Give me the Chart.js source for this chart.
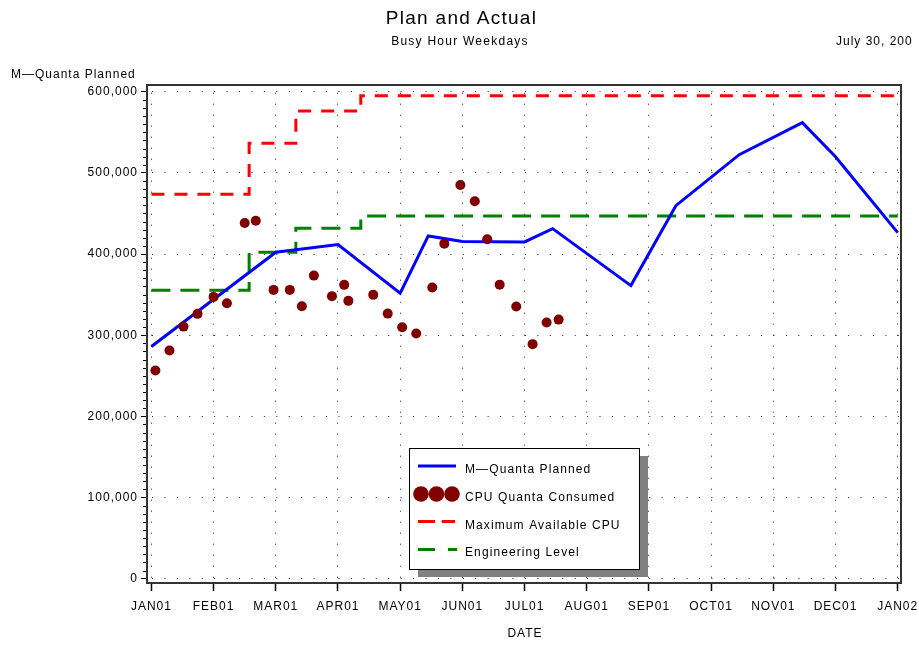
<!DOCTYPE html>
<html>
<head>
<meta charset="utf-8">
<script src="https://cdn.jsdelivr.net/npm/chart.js@4.4.0/dist/chart.umd.min.js"></script>
<style>
  html, body { margin: 0; padding: 0; background: #fff; }
  #wrap { position: relative; width: 919px; height: 645px; overflow: hidden; }
  #wrap canvas { position: absolute; left: 0; top: 0; }
  .txt { position: absolute; font-family: "Liberation Sans", Arial, sans-serif; color: #000; white-space: nowrap; letter-spacing: 1px; font-size: 12px; line-height: 12px; }
</style>
</head>
<body>
<div id="wrap">
  <canvas id="planChart" width="919" height="645"></canvas>
  <div class="txt" style="left:2px;width:919px;text-align:center;top:8px;font-size:19px;line-height:19px;letter-spacing:1.3px;">Plan and Actual</div>
  <div class="txt" style="left:0;width:920px;text-align:center;top:35px;letter-spacing:1.25px;">Busy Hour Weekdays</div>
  <div class="txt" style="left:836px;top:35px;">July 30, 200</div>
  <div class="txt" style="left:11px;top:68px;">M—Quanta Planned</div>
  <div class="txt" style="left:500px;width:50px;text-align:center;top:627px;">DATE</div>
</div>
<script>
// axis labels
const monthLabels = ['JAN01', 'FEB01', 'MAR01', 'APR01', 'MAY01', 'JUN01', 'JUL01',
                     'AUG01', 'SEP01', 'OCT01', 'NOV01', 'DEC01', 'JAN02'];
const yTickValues = [0, 100000, 200000, 300000, 400000, 500000, 600000];

// M-Quanta Planned
const plannedDates = ['2001-01-01', '2001-03-01', '2001-04-01', '2001-05-01', '2001-05-15',
                      '2001-06-01', '2001-07-01', '2001-07-15', '2001-08-23', '2001-09-14',
                      '2001-10-15', '2001-11-15', '2001-12-01', '2002-01-01'];
const plannedValues = [286000, 402200, 411600, 351800, 422300,
                       415500, 414900, 431300, 361100, 459600,
                       522400, 561800, 519900, 426400];

// CPU Quanta Consumed
const consumedDates = ['2001-01-03', '2001-01-10', '2001-01-17', '2001-01-24', '2001-02-01',
                       '2001-02-07', '2001-02-15', '2001-02-20', '2001-02-28', '2001-03-08',
                       '2001-03-14', '2001-03-20', '2001-03-29', '2001-04-04', '2001-04-06',
                       '2001-04-18', '2001-04-25', '2001-05-02', '2001-05-09', '2001-05-17',
                       '2001-05-23', '2001-05-31', '2001-06-07', '2001-06-13', '2001-06-19',
                       '2001-06-27', '2001-07-05', '2001-07-12', '2001-07-18'];
const consumedValues = [256500, 281100, 310600, 326300, 347200,
                        339400, 438300, 441100, 355800, 355800,
                        335700, 373400, 348100, 362000, 342300,
                        349700, 326600, 309900, 302000, 358700,
                        412800, 485100, 465000, 418200, 362300,
                        335300, 289000, 315600, 319200];

// Maximum Available CPU / Engineering Level (step levels)
const levelDates = ['2001-01-01', '2001-02-17', '2001-03-11', '2001-04-12', '2002-01-01'];
const maxCpuValues = [473600, 536400, 576200, 595000, 595000];
const engValues = [355400, 402200, 431800, 446900, 446900];

// date -> position in months from JAN01 (months spaced evenly)
function monthPos(s) {
    const [y, m, d] = s.split('-').map(Number);
    const days = new Date(y, m, 0).getDate();
    return (y - 2001) * 12 + (m - 1) + (d - 1) / days;
}
function toPoints(dates, values) {
    return dates.map((d, i) => ({ x: monthPos(d), y: values[i] }));
}

const FONT = { family: '"Liberation Sans", Arial, sans-serif', size: 12 };

// frame round the plot + minor ticks on the y axis
const framePlugin = {
    id: 'frame',
    beforeUpdate(chart) { chart.ctx.letterSpacing = '1px'; },
    beforeDraw(chart) { chart.ctx.letterSpacing = '1px'; },
    afterDatasetsDraw(chart) {
        const ctx = chart.ctx, a = chart.chartArea, ys = chart.scales.y;
        ctx.save();
        ctx.strokeStyle = '#000';
        ctx.lineWidth = 1;
        for (let v = 10000; v < 600000; v += 10000) {
            if (v % 100000 === 0) continue;
            const py = Math.round(ys.getPixelForValue(v)) + 0.5;
            ctx.beginPath();
            ctx.moveTo(a.left - 4, py);
            ctx.lineTo(a.left, py);
            ctx.stroke();
        }
        ctx.strokeStyle = '#333';
        ctx.lineWidth = 2;
        ctx.strokeRect(a.left, a.top, a.right - a.left, a.bottom - a.top);
        ctx.restore();
    }
};

// legend box inside the plot with a grey shadow
const legendPlugin = {
    id: 'boxLegend',
    afterDraw(chart) {
        const ctx = chart.ctx, a = chart.chartArea;
        const bx = a.left + 262, by = a.top + 363, bw = 230, bh = 121;
        ctx.save();
        ctx.fillStyle = '#808080';
        ctx.fillRect(bx + 9, by + 8, bw, bh);
        ctx.fillStyle = '#fff';
        ctx.fillRect(bx, by, bw, bh);
        ctx.strokeStyle = '#000';
        ctx.lineWidth = 1;
        ctx.strokeRect(bx + 0.5, by + 0.5, bw, bh);

        const sx = bx + 9, tx = bx + 56;
        const rows = [by + 25, by + 53, by + 80.5, by + 108];

        ctx.lineWidth = 3;
        ctx.strokeStyle = '#0000ff';
        ctx.beginPath(); ctx.moveTo(sx, rows[0] - 7); ctx.lineTo(sx + 38, rows[0] - 7); ctx.stroke();

        ctx.fillStyle = '#800000';
        [12, 27.5, 43].forEach(dx => {
            ctx.beginPath(); ctx.arc(bx + dx, rows[1] - 7, 7.8, 0, Math.PI * 2); ctx.fill();
        });

        ctx.strokeStyle = '#ff0000';
        ctx.setLineDash([17, 6.7]);
        ctx.beginPath(); ctx.moveTo(sx, rows[2] - 7); ctx.lineTo(sx + 37, rows[2] - 7); ctx.stroke();

        ctx.strokeStyle = '#008000';
        ctx.setLineDash([17, 13]);
        ctx.beginPath(); ctx.moveTo(sx, rows[3] - 6.5); ctx.lineTo(sx + 39, rows[3] - 6.5); ctx.stroke();
        ctx.setLineDash([]);

        ctx.fillStyle = '#000';
        ctx.font = '12px "Liberation Sans", Arial, sans-serif';
        ctx.letterSpacing = '1.1px';
        ctx.textBaseline = 'alphabetic';
        ctx.textAlign = 'left';
        const names = chart.data.datasets.map(ds => ds.label);
        names.forEach((n, i) => ctx.fillText(n, tx, rows[i]));
        ctx.restore();
    }
};

const config = {
    type: 'line',
    data: {
        datasets: [{
            label: 'M\u2014Quanta Planned',
            data: toPoints(plannedDates, plannedValues),
            borderColor: '#0000ff',
            borderWidth: 3,
            pointRadius: 0,
            tension: 0,
            order: 1
        }, {
            label: 'CPU Quanta Consumed',
            data: toPoints(consumedDates, consumedValues),
            showLine: false,
            pointRadius: 5,
            pointBorderWidth: 0,
            pointBackgroundColor: '#800000',
            borderColor: '#800000',
            order: 0
        }, {
            label: 'Maximum Available CPU',
            data: toPoints(levelDates, maxCpuValues),
            borderColor: '#ff0000',
            borderWidth: 3,
            borderDash: [13, 10],
            stepped: 'before',
            pointRadius: 0,
            order: 2
        }, {
            label: 'Engineering Level',
            data: toPoints(levelDates, engValues),
            borderColor: '#008000',
            borderWidth: 3,
            borderDash: [19, 10],
            stepped: 'before',
            pointRadius: 0,
            order: 3
        }]
    },
    options: {
        responsive: false,
        devicePixelRatio: 1,
        animation: false,
        layout: { padding: { left: 0, top: 85, right: 18, bottom: 0 } },
        plugins: {
            legend: { display: false },
            tooltip: { enabled: false },
            title: { display: false }
        },
        scales: {
            x: {
                type: 'linear',
                min: -0.0708,
                max: 12.053,
                afterBuildTicks: s => { s.ticks = monthLabels.map((_, i) => ({ value: i })); },
                afterFit: s => { s.height = 62; s.paddingLeft = 0; s.paddingRight = 0; },
                ticks: {
                    autoSkip: false,
                    maxRotation: 0,
                    padding: 8,
                    color: '#000',
                    font: FONT,
                    callback: v => monthLabels[v]
                },
                grid: {
                    color: '#222',
                    lineWidth: 1,
                    tickLength: 8,
                    tickColor: '#000',
                    tickWidth: 1.5,
                    tickBorderDash: []
                },
                border: { display: false, dash: [1, 10], dashOffset: 3.3 }
            },
            y: {
                type: 'linear',
                min: -5300,
                max: 608250,
                afterBuildTicks: s => { s.ticks = yTickValues.map(v => ({ value: v })); },
                afterFit: s => { s.width = 147; s.paddingTop = 0; s.paddingBottom = 0; },
                ticks: {
                    padding: 3,
                    color: '#000',
                    font: FONT,
                    callback: v => v.toLocaleString('en-US')
                },
                grid: {
                    color: '#222',
                    lineWidth: 1,
                    tickLength: 6,
                    tickColor: '#000',
                    tickWidth: 1,
                    tickBorderDash: []
                },
                border: { display: false, dash: [1, 11.43], dashOffset: 7.4 }
            }
        }
    },
    plugins: [framePlugin, legendPlugin]
};

new Chart(document.getElementById('planChart'), config);
</script>
</body>
</html>
